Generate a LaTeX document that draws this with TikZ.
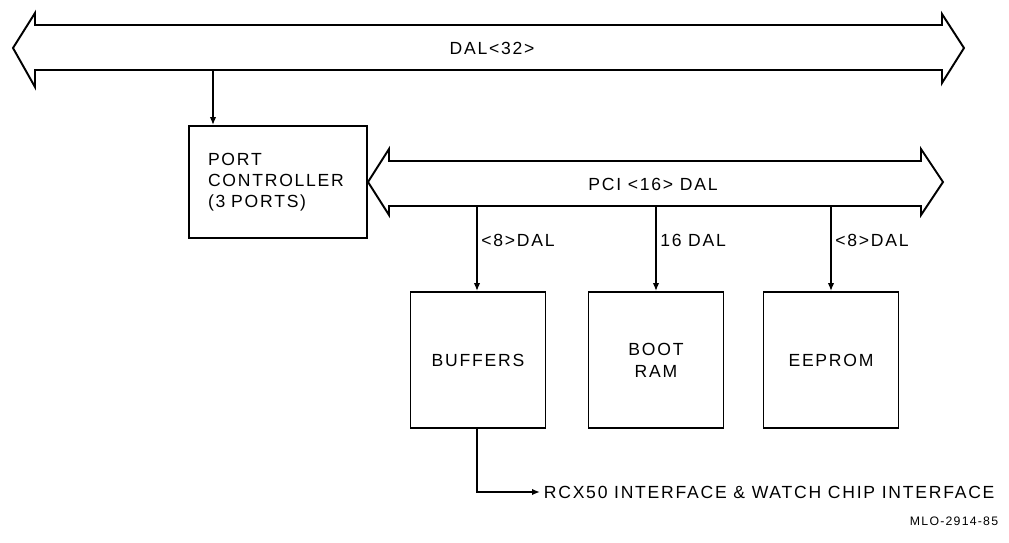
\documentclass[tikz,border=0pt]{standalone}
\usepackage{fontspec}
\setmainfont[LetterSpace=10]{Liberation Sans}
\usetikzlibrary{arrows.meta,positioning}

\begin{document}
\begin{tikzpicture}[x=0.02cm, y=-0.02cm,
  busline/.style={draw=black, line width=1.1pt, line join=miter},
  unitbox/.style={draw=black, line width=1.1pt, minimum width=2.7cm,
    minimum height=2.72cm, align=center, font=\fontsize{10}{12.5}\selectfont},
  ctlbox/.style={draw=black, line width=1.1pt, text width=2.8cm, inner xsep=0.38cm,
    minimum height=2.24cm, align=left, font=\fontsize{10}{12}\selectfont},
  lbl/.style={font=\fontsize{10}{12}\selectfont, inner sep=2pt},
  arr/.style={-{Latex[length=1.6mm,width=1.3mm]}, line width=0.9pt}
]
  \useasboundingbox (0,0) rectangle (1009,542);

  % DAL<32> bus
  \draw[busline] (13,48) -- (35,13) -- (35,25) -- (942,25) -- (942,14)
    -- (964,48) -- (942,83) -- (942,70) -- (35,70) -- (35,87) -- cycle;
  \node[lbl] (dal) at (492,48) {DAL<32>};
  \coordinate (dalport) at (213,70);

  % PCI bus
  \draw[busline] (368,182) -- (389,149) -- (389,161) -- (921,161) -- (921,149)
    -- (943,182) -- (921,215) -- (921,206) -- (389,206) -- (389,215) -- cycle;
  \node[lbl] (pci) at (653,184) {PCI <16> DAL};
  \coordinate (pcibuf) at (477,206);
  \coordinate (pciram) at (656,206);
  \coordinate (pcirom) at (831,206);

  \node[ctlbox] (port) at (278,182) {PORT\\CONTROLLER\\(3 PORTS)};

  \node[unitbox] (buf) at (478,360) {BUFFERS};
  \node[unitbox] (ram) at (656,360) {BOOT\\RAM};
  \node[unitbox] (rom) at (831,360) {EEPROM};

  \node[lbl, anchor=west] (rcx) at (540,492)
    {RCX50 INTERFACE \& WATCH CHIP INTERFACE};
  \node[lbl, anchor=east, font=\fontsize{7}{8}\selectfont] (fig) at (1002,521)
    {MLO-2914-85};

  \draw[arr] (dalport) -- (port.north -| dalport);
  \draw[arr] (pcibuf) -- node[lbl, right, pos=0.4] {<8>DAL} (pcibuf |- buf.north);
  \draw[arr] (pciram) -- node[lbl, right, pos=0.4] {16 DAL} (ram.north);
  \draw[arr] (pcirom) -- node[lbl, right, pos=0.4] {<8>DAL} (rom.north);
  \draw[arr] (buf.south -| pcibuf) |- (rcx.west);
\end{tikzpicture}
\end{document}
